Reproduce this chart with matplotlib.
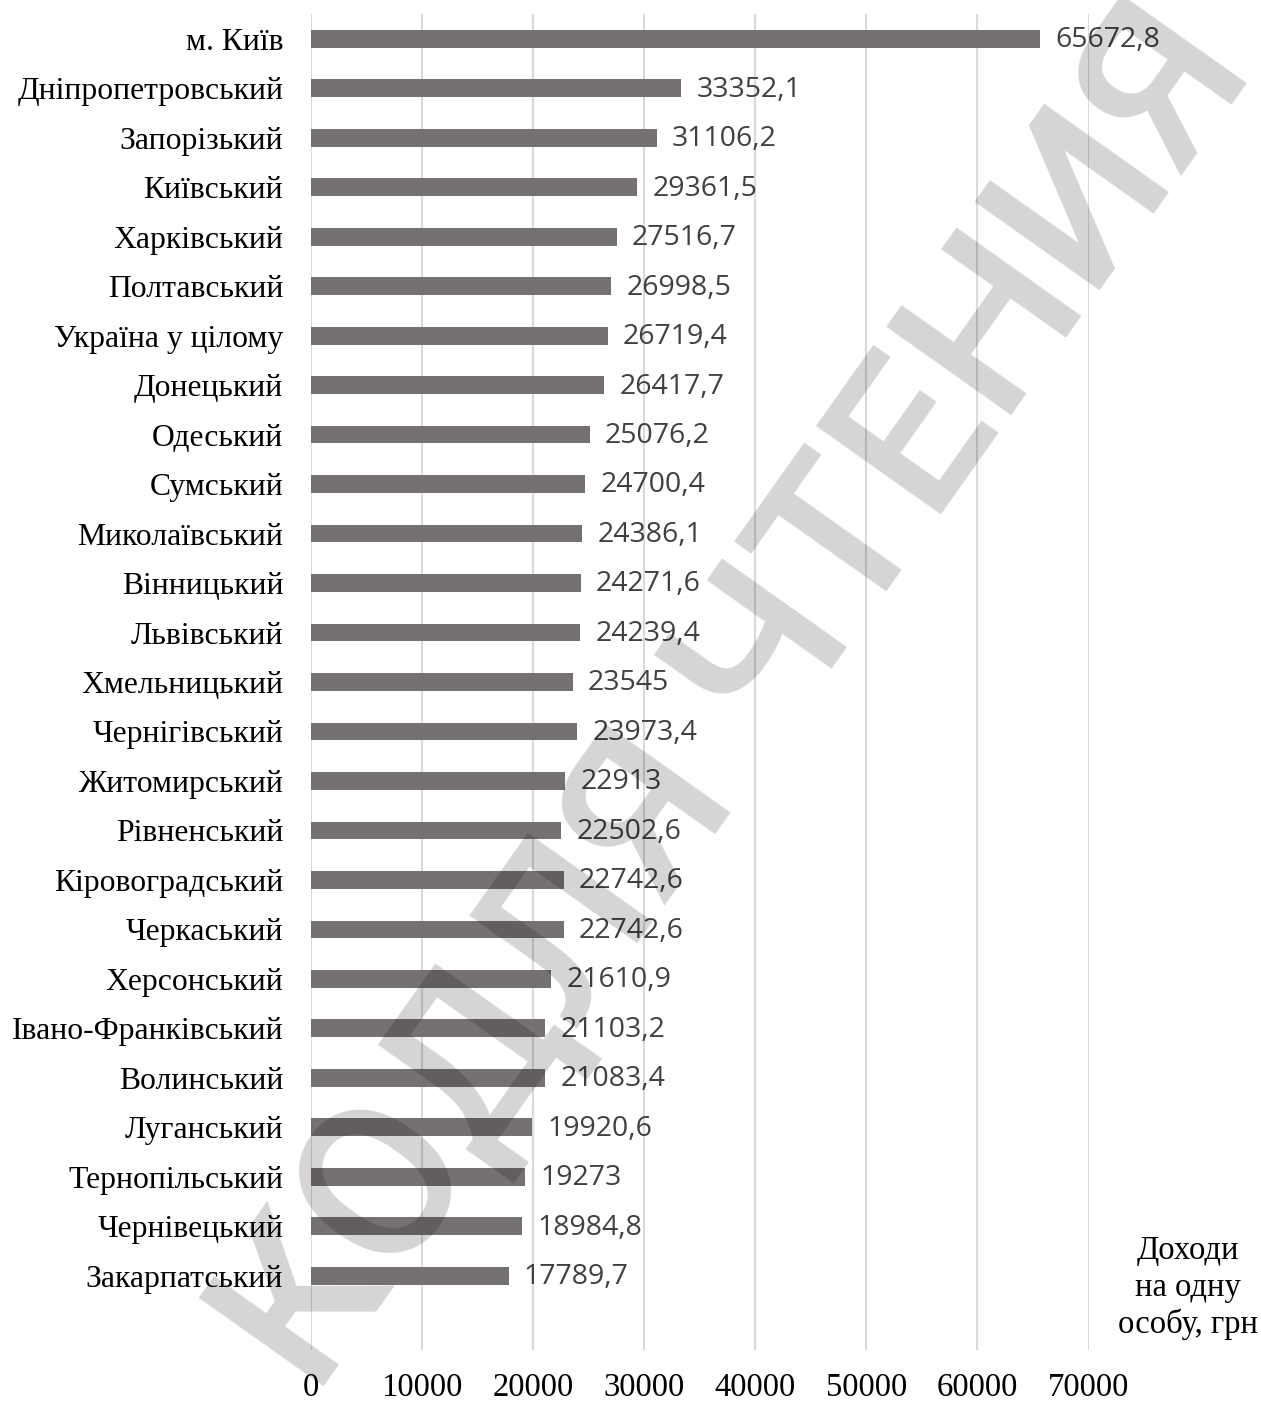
import matplotlib
matplotlib.use("Agg")
import matplotlib.pyplot as plt

categories = ["м. Київ", "Дніпропетровський", "Запорізький", "Київський", "Харківський",
              "Полтавський", "Україна у цілому", "Донецький", "Одеський", "Сумський",
              "Миколаївський", "Вінницький", "Львівський", "Хмельницький", "Чернігівський",
              "Житомирський", "Рівненський", "Кіровоградський", "Черкаський", "Херсонський",
              "Івано-Франківський", "Волинський", "Луганський", "Тернопільський",
              "Чернівецький", "Закарпатський"]
values = [65672.8, 33352.1, 31106.2, 29361.5, 27516.7, 26998.5, 26719.4, 26417.7, 25076.2,
          24700.4, 24386.1, 24271.6, 24239.4, 23545, 23973.4, 22913, 22502.6, 22742.6,
          22742.6, 21610.9, 21103.2, 21083.4, 19920.6, 19273, 18984.8, 17789.7]
x_ticks = [0, 10000, 20000, 30000, 40000, 50000, 60000, 70000]
axis_title = "Доходи\nна одну\nособу, грн"
watermark = "КОДЛЯ ЧТЕНИЯ"

W, H = 1261, 1401
fig = plt.figure(figsize=(W / 100, H / 100), dpi=100)
ax = fig.add_axes([311 / W, 1 - 1350 / H, (1088.5 - 311) / W, (1350 - 14) / H])

pos = list(range(len(categories)))
ax.barh(pos, values, height=0.36, color="#767171", zorder=2)
ax.set_ylim(len(categories) + 0.5, -0.5)
ax.set_xlim(0, 70000)
ax.set_yticks(pos)
ax.set_yticklabels(categories, family="Liberation Serif", fontsize=22.8, color="black")
ax.set_xticks(x_ticks)
ax.set_xticklabels([str(t) for t in x_ticks], family="Liberation Serif", fontsize=23.5, color="black")
ax.tick_params(axis="y", length=0, pad=20)
ax.tick_params(axis="x", length=0, pad=16)
for s in ax.spines.values():
    s.set_visible(False)
ax.grid(axis="x", color="#d9d9d9", linewidth=1.5, zorder=0)
ax.set_axisbelow(True)

for p, v in zip(pos, values):
    lbl = f"{v:g}".replace(".", ",")
    ax.annotate(lbl, (v, p), xytext=(11, -1), textcoords="offset points",
                va="center", ha="left", family="Open Sans", fontsize=20.5, color="#404040")

fig.text(1188 / W, 1 - 1288 / H, axis_title, ha="center", va="center",
         family="Liberation Serif", fontsize=23.5, linespacing=1.25)

fig.text(738 / W, 1 - 700 / H, watermark, ha="center", va="center", rotation=54.7,
         family="Roboto", fontweight="medium", fontsize=155, color="black", alpha=0.17,
         zorder=10, rotation_mode="anchor")

fig.savefig("out.png", dpi=100)
